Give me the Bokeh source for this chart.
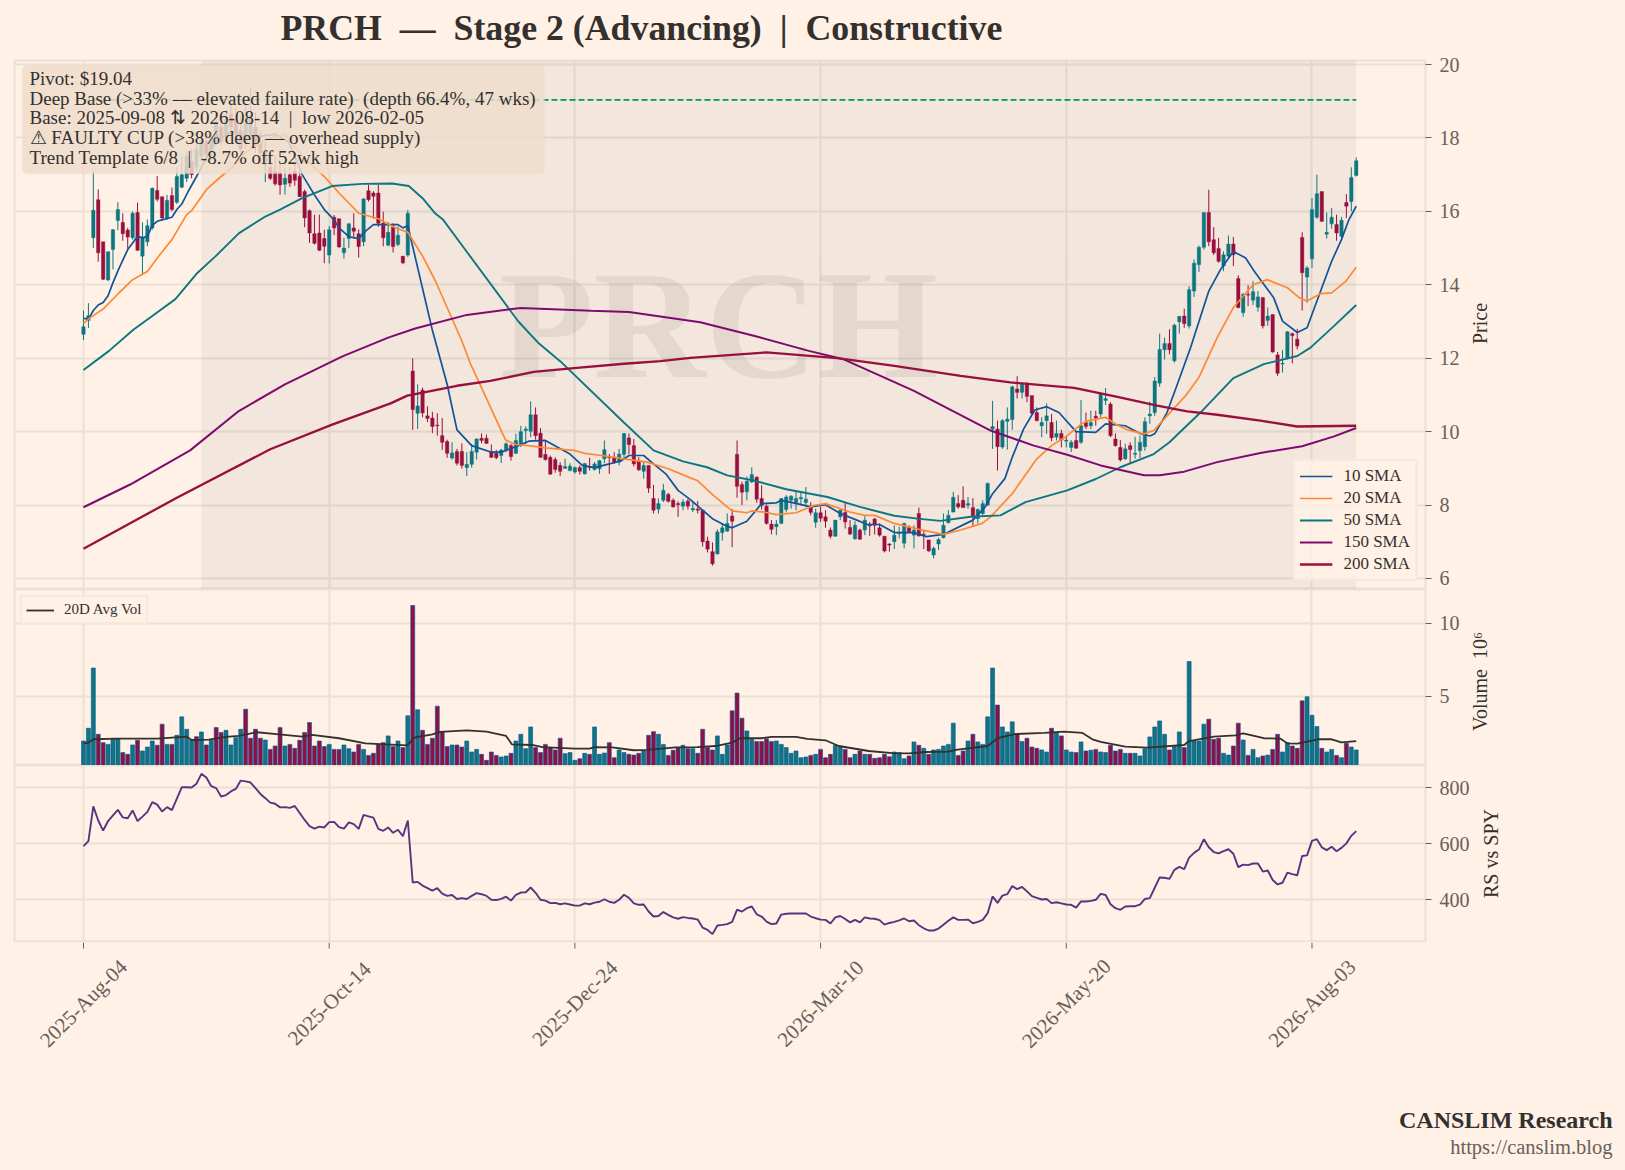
import math
from bokeh.plotting import figure
from bokeh.layouts import column, row
from bokeh.core.properties import value
from bokeh.models import Range1d, FixedTicker, BoxAnnotation, Label, Legend, LegendItem, ColumnDataSource
from bokeh.embed import file_html
from bokeh.resources import INLINE

ticker = "PRCH"
title_text = "PRCH\u00a0\u00a0—\u00a0\u00a0Stage 2 (Advancing)\u00a0\u00a0|\u00a0\u00a0Constructive"
pivot = 19.04
base_start_bar = 24
base_end_bar = 259
tick_bars = [0, 50, 100, 150, 200, 250]
tick_labels = ["2025-Aug-04", "2025-Oct-14", "2025-Dec-24", "2026-Mar-10", "2026-May-20", "2026-Aug-03"]
annotation_lines = [
    "Pivot: $19.04",
    "Deep Base (>33% — elevated failure rate)\u00a0\u00a0(depth 66.4%, 47 wks)",
    "Base: 2025-09-08 ⇅ 2026-08-14\u00a0\u00a0|\u00a0\u00a0low 2026-02-05",
    "⚠ FAULTY CUP (>38% deep — overhead supply)",
    "Trend Template 6/8\u00a0\u00a0|\u00a0\u00a0-8.7% off 52wk high",
]

body_top = [
12.86,13.16,16.03,16.32,15.17,14.9,15.5,16.05,15.7,15.49,
15.95,15.97,15.3,15.61,16.63,16.57,16.4,16.3,16.43,16.95,
17.0,17.5,17.35,17.7,17.95,17.9,18.0,18.4,18.3,18.5,
18.65,18.5,18.2,18.4,18.6,18.3,17.9,17.6,17.2,17.1,
17.05,16.9,17.0,17.1,16.95,16.54,16.02,15.39,15.41,15.26,
15.5,15.84,15.8,15.0,15.66,15.55,15.39,16.34,16.56,16.5,
16.5,15.68,15.43,15.58,15.35,14.78,15.95,11.65,10.7,11.13,
10.43,10.37,10.18,9.89,9.73,9.42,9.46,9.46,9.11,9.46,
9.8,9.82,9.82,9.46,9.41,9.5,9.67,9.62,9.76,10.0,
10.07,10.46,10.46,9.96,9.38,9.3,9.24,9.08,9.05,9.06,
9.02,9.02,9.13,9.05,9.12,9.21,9.51,9.32,9.3,9.39,
9.95,9.83,9.62,9.2,9.08,9.08,8.18,8.04,8.4,8.29,
8.13,8.04,8.08,8.11,7.91,7.89,7.86,7.02,6.73,7.27,
7.38,7.5,7.7,9.38,8.56,8.65,8.83,8.76,8.18,7.97,
7.48,7.48,8.18,8.22,8.24,8.18,8.21,8.16,7.95,7.79,
7.79,7.68,7.32,7.59,7.86,7.8,7.39,7.45,7.32,7.59,
7.45,7.62,7.38,7.15,6.94,7.18,7.25,7.5,7.39,7.32,
7.77,7.2,7.05,6.82,7.06,7.45,7.72,8.21,8.04,8.13,
8.04,7.93,7.88,8.04,8.59,10.14,10.07,10.3,10.34,11.22,
11.16,11.29,11.32,10.98,10.52,10.25,10.43,10.25,9.95,9.95,
9.77,9.71,9.76,10.16,10.25,10.25,10.42,11.02,10.9,10.75,
9.8,9.57,9.53,9.62,9.41,9.71,10.27,10.48,11.38,12.24,
12.4,12.4,12.9,13.14,13.15,13.87,14.59,15.02,15.97,15.97,
15.23,14.99,14.82,15.11,15.11,14.17,13.74,13.74,13.81,13.67,
13.65,13.15,13.19,12.09,11.86,12.72,12.67,12.52,15.29,14.46,
16.05,16.48,16.54,15.43,15.84,15.64,15.76,16.24,16.92,17.38]

body_bot = [
12.65,13.03,15.28,14.87,14.15,14.13,14.96,15.75,15.39,15.3,
15.28,14.94,14.78,15.17,15.55,16.33,15.82,15.82,16.05,16.25,
16.66,16.9,17.0,17.2,17.5,17.55,17.6,17.95,17.9,18.1,
18.3,18.1,17.7,17.9,18.1,17.9,17.6,17.25,16.9,16.75,
16.72,16.74,16.77,16.85,16.4,15.82,15.41,15.13,14.94,15.05,
14.81,15.55,15.03,14.87,15.26,15.46,15.04,15.17,16.32,16.41,
15.68,15.28,15.08,15.04,15.1,14.6,14.81,10.6,10.5,10.51,
10.36,10.14,10.16,9.71,9.41,9.28,9.14,9.08,9.02,9.11,
9.44,9.76,9.68,9.3,9.29,9.35,9.49,9.32,9.41,9.65,
10.03,10.01,9.89,9.3,9.24,8.84,8.97,8.92,9.0,8.94,
8.9,8.92,8.85,9.02,8.97,8.99,9.26,9.29,9.17,9.17,
9.38,9.65,9.12,8.96,8.92,8.46,7.86,7.89,8.13,8.1,
7.95,8.01,7.97,7.97,7.87,7.86,7.0,6.8,6.4,6.67,
7.25,7.29,7.56,8.51,8.35,8.36,8.63,8.16,7.99,7.5,
7.34,7.41,7.5,7.88,8.13,8.07,8.17,8.07,7.8,7.53,
7.64,7.56,7.15,7.15,7.68,7.54,7.21,7.08,7.07,7.32,
7.43,7.45,7.18,6.75,6.91,7.0,7.23,6.96,7.27,7.18,
7.16,7.18,6.75,6.64,6.94,7.11,7.52,7.81,7.95,7.93,
8.0,7.68,7.63,7.77,8.0,10.07,9.59,9.58,10.28,10.33,
11.07,11.07,10.96,10.5,10.3,10.16,10.3,9.83,9.85,9.77,
9.74,9.57,9.55,9.71,10.14,10.16,10.37,10.48,10.85,9.89,
9.62,9.23,9.26,9.51,9.38,9.48,9.59,10.43,10.52,11.32,
12.23,12.23,11.93,12.99,12.94,12.88,13.83,14.55,15.02,15.17,
14.87,14.64,14.51,14.78,14.82,13.38,13.24,13.72,13.58,13.39,
12.88,13.03,12.17,11.59,11.84,12.0,12.62,12.33,14.33,14.21,
14.71,15.84,15.73,15.38,15.66,15.41,15.32,16.14,16.27,16.98]

highs = [
13.3,13.5,17.1,16.6,15.17,14.9,15.52,16.25,15.95,15.55,
16,16.24,15.7,15.78,16.65,16.96,16.4,16.45,16.65,17.2,
17.5,17.6,17.7,17.9,18.1,18.2,18.2,18.5,18.6,18.7,
18.9,18.8,18.6,18.9,19.38,18.7,18.2,17.9,17.6,17.5,
17.3,17.2,17.2,17.3,17.1,16.59,16.05,15.91,15.91,15.5,
15.6,15.9,15.8,15.28,15.68,15.95,15.51,16.36,16.72,16.55,
16.72,15.99,15.71,15.68,15.59,14.78,16.04,12.0,11.29,11.2,
10.69,10.54,10.5,10.37,9.78,9.71,9.53,9.68,9.44,9.67,
9.82,9.95,9.92,9.65,9.5,9.53,9.71,9.67,9.94,10.16,
10.14,10.82,10.66,10.1,9.76,9.35,9.3,9.17,9.26,9.14,
9.05,9.08,9.15,9.29,9.17,9.23,9.76,9.39,9.44,9.53,
9.96,9.95,9.8,9.3,9.17,9.08,8.55,8.18,8.58,8.33,
8.18,8.1,8.16,8.17,8.11,8.11,7.88,7.14,6.98,7.34,
7.5,7.77,7.89,9.76,8.64,8.78,9.03,8.78,8.54,8.02,
7.59,7.59,8.19,8.27,8.27,8.36,8.36,8.49,8.08,7.9,
7.95,7.86,7.39,7.59,7.9,8.06,7.59,7.56,7.36,7.7,
7.54,7.65,7.5,7.15,6.96,7.45,7.41,7.52,7.45,7.45,
7.93,7.32,7.05,6.87,7.11,7.77,7.86,8.36,8.27,8.51,
8.22,8.19,7.9,8.13,8.61,10.84,10.3,10.34,10.66,11.25,
11.51,11.34,11.34,10.99,10.66,10.39,10.77,10.48,10.3,10.05,
9.86,9.77,10.03,10.86,10.52,10.57,10.57,11.07,11.19,10.8,
9.95,9.77,9.67,9.71,9.86,9.89,10.39,10.82,11.49,12.67,
12.56,12.79,12.94,13.14,13.35,13.96,14.69,15.07,15.97,16.59,
15.57,15.28,14.91,15.34,15.3,14.26,13.78,13.99,14.1,13.83,
13.67,13.38,13.19,12.17,12.22,12.74,12.7,12.8,15.43,14.51,
16.36,17.0,16.54,15.97,16.09,15.91,15.85,16.47,17.2,17.47]

lows = [
12.5,12.82,15.0,14.63,14.13,14.1,14.42,15.49,15.2,14.98,
15.23,14.92,14.3,15.05,15.5,16.27,15.77,15.77,16.0,16.2,
16.63,16.8,16.9,17.1,17.4,17.4,17.4,17.8,17.8,18.0,
18.1,17.9,17.6,17.7,18.0,17.6,17.3,16.8,16.85,16.7,
16.45,16.46,16.67,16.7,16.4,15.57,15.14,15.1,14.92,14.59,
14.58,15.35,15.01,14.71,15.0,15.26,14.74,15.05,16.27,15.8,
15.58,15.05,15.05,14.88,15.05,14.56,14.76,10.05,10.07,10.39,
10.26,9.96,9.89,9.5,9.29,9.24,9.08,8.99,8.79,9.02,
9.24,9.68,9.67,9.29,9.25,9.14,9.44,9.21,9.39,9.58,
9.65,9.85,9.78,9.29,9.21,8.83,8.88,8.79,8.99,8.92,
8.85,8.83,8.83,8.94,8.94,8.85,9.14,8.85,9.12,9.08,
9.26,9.39,9.05,8.93,8.72,8.33,7.77,7.77,8.08,8.07,
7.93,7.68,7.86,7.88,7.81,7.77,6.87,6.71,6.35,6.65,
7.03,7.27,6.85,8.2,8.0,8.13,8.6,8.06,7.88,7.47,
7.2,7.18,7.48,7.8,7.9,7.86,8.02,7.95,7.72,7.38,
7.54,7.38,7.09,7.14,7.59,7.36,7.18,7.06,7.05,7.18,
7.16,7.2,7.14,6.71,6.73,6.8,7.09,6.82,7.24,6.82,
7.14,6.8,6.73,6.55,6.78,7.09,7.5,7.8,7.9,7.93,
7.9,7.41,7.5,7.7,7.98,9.53,8.94,9.53,9.51,10.05,
10.9,10.9,10.8,10.48,10.28,9.85,9.94,9.74,9.76,9.57,
9.57,9.44,9.53,9.67,10.07,10.07,10.16,10.39,10.73,9.85,
9.59,9.19,9.23,9.14,9.26,9.28,9.48,10.21,10.43,11.22,
11.97,12.11,11.88,12.67,12.83,12.81,13.67,14.35,14.96,15.05,
14.81,14.6,14.37,14.73,14.51,13.36,13.13,13.42,13.45,13.27,
12.81,12.88,12.15,11.52,11.61,11.97,11.86,12.24,13.3,13.51,
14.46,15.8,15.71,15.26,15.53,15.2,15.26,15.82,16.0,16.95]

candle_up = ("UUUDDUUUDD" "UDUUUDDUDU" "UUDUUDUUDU" "DDDUUDDUDD" "DUDDDDDDDD"
             "UDDUUDDUDD" "DDUDUDUDUD" "DDDDDUDDUU" "UDDDDUUDUU" "UUDDDDDDUU"
             "UDUDUUUDDU" "UDDDUDDUUD" "DDUDUDDDDU" "UUDDDUUDDD" "DUUUUUUUDU"
             "DDDUUDDUDU" "DDDDDUUUDU" "DDDUUUUUDD" "UDUUUUDUUU" "DUDDDUUDUD"
             "UUDUDUDUUD" "DDUDUUUUUU" "UDUUDUUUUD" "DDUUDDUDUU" "DUDDUUDDDU"
             "UUDUUDUDUU")

volumes = [
1.96,2.83,6.94,2.42,1.85,1.73,2.08,2.12,1.17,1.05,
1.69,2.01,1.28,1.55,1.96,1.67,3.11,1.73,1.73,2.35,
3.61,2.76,2.01,2.26,2.58,1.69,2.01,2.88,2.54,2.69,
1.69,2.19,2.76,4.13,2.15,2.76,2.15,2.03,1.39,1.62,
2.88,1.62,1.73,1.46,2.01,2.54,3.22,1.62,1.96,1.58,
1.73,1.39,1.39,1.69,1.44,1.21,1.73,1.39,.98,1.12,
1.73,1.85,2.31,1.58,1.96,1.51,3.68,11.21,4.09,2.69,
1.73,2.15,4.34,2.58,1.58,1.69,1.69,1.55,1.96,1.21,
1.39,1.05,.64,1.21,.98,.87,.94,1.12,1.96,2.42,
1.44,2.92,1.51,1.17,1.73,1.51,1.35,2.15,1.1,1.17,
.64,.75,1.12,1.05,2.92,1.05,1.14,1.85,.82,1.35,
1.17,1.05,1.0,1.12,1.28,2.35,2.6,2.42,1.73,.98,
1.33,1.51,1.67,1.44,1.44,1.12,2.76,1.51,1.35,2.31,
1.05,1.69,4.02,5.23,3.52,2.65,2.08,1.92,1.92,2.12,
1.92,1.96,1.73,1.51,1.12,1.28,.82,.87,.98,1.05,
1.39,.82,1.05,1.67,1.58,1.39,.82,1.05,1.28,1.05,
1.05,.78,.82,1.05,.89,1.21,1.17,.75,.94,1.9,
1.67,1.46,1.05,1.35,1.39,1.62,1.73,3.18,.98,1.28,
1.96,2.42,1.9,1.73,3.61,6.94,4.41,2.92,2.58,3.27,
2.42,1.92,2.15,1.55,1.46,1.35,1.21,2.83,2.54,2.31,
1.35,1.21,1.17,1.9,1.28,1.33,1.39,1.21,1.17,1.67,
1.28,1.39,1.12,1.12,1.12,.94,1.44,2.24,2.92,3.33,
2.42,1.35,1.58,2.58,1.51,7.38,1.96,1.96,3.11,3.45,
2.08,2.15,1.12,1.0,1.62,3.18,2.03,.98,1.39,.82,
.94,1.0,1.39,2.42,1.21,1.85,1.62,1.46,4.70,4.98,
3.72,2.95,1.46,1.21,1.39,.98,.82,1.8,1.55,1.35]

volume_up = ("UUUDDUUUDD" "UDUUUDDUDU" "UUUDUDUDDU" "UUUDDDDUDD" "DUDDDDDDDD"
             "UDDUUDDUDD" "DDUDUDUDUD" "DDDDDUDDUU" "UDDDDUUDUU" "UUDDDDDDUU"
             "UDUDUUUDDU" "UDDDUDDUUD" "DDUDUDDDDU" "UUDDDUUDDD" "DUUUUUUUDU"
             "DDDUUDDUDU" "DDDDDUUUDU" "DUDUUUUUDD" "UDUUUUDUUU" "DUDDDUUDUD"
             "UUDUDUDUUD" "DDUDUUUUUU" "UDUUDUUUUD" "DDUUDDUDUU" "DUDDUUDDDU"
             "UUDUUDUDUU")

rs_values = [
591,609,734,683,647,681,701,721,694,691,719,681,697,714,749,740,715,731,720,761,
802,802,801,815,850,837,806,799,769,774,787,796,826,823,819,799,778,763,747,743,
730,731,728,735,710,685,663,654,661,658,677,678,659,654,676,670,653,703,698,693,
653,646,658,639,650,627,683,461,463,450,441,432,441,421,413,416,402,405,402,413,
423,419,413,399,398,402,410,396,417,425,426,443,424,399,396,387,388,383,386,382,
378,378,386,383,389,392,401,392,388,399,417,406,386,381,382,357,339,341,355,345,
336,331,337,334,332,328,299,291,276,307,309,312,320,364,357,369,375,347,339,321,
312,314,346,349,350,350,350,350,339,333,328,327,314,336,341,330,318,327,318,336,
332,331,326,310,316,320,325,332,322,325,308,297,289,289,296,310,324,336,327,327,
328,315,320,327,351,411,388,414,419,448,437,445,429,412,406,400,402,387,390,386,
382,381,371,393,393,395,399,420,416,383,369,363,375,376,376,382,402,405,442,479,
478,474,506,517,509,550,567,579,616,587,570,565,573,580,564,516,525,523,529,529,
500,504,470,454,460,496,491,487,556,558,610,616,587,577,589,573,585,601,628,645]

sma10_x = [0,1,2,3,4,5,6,7,8,9,10,11,12,13,14,15,16,18,19,20,21.5,23,25,27,30,33,36,39,41.8,44.5,47,49,51,52,54,56,57.4,59,61,64,65,66,71,71.6,74,76,79,83,85,88,90.6,94,96.4,99,101.5,104,107,109.5,111,114,116,118.5,121,123.5,125.2,128,130.5,132,135,138,141,142,144.5,148,151,154,157,159.5,162,165,169,171.5,175,181,183.5,185,187.5,189,191.3,193.6,196,198.5,202,206,208,212,215,217,218,220.5,222.6,225.3,229,231.4,234,236.5,238,240,242.2,244,247,249,252,254,256,257.5,259]
sma10_y = [13.09,13.06,13.3,13.45,13.52,13.7,14.06,14.38,14.67,14.96,15.14,15.32,15.28,15.32,15.62,15.73,15.77,15.84,16.05,16.2,16.59,16.95,17.45,17.9,18.16,18.05,18.05,18.1,17.89,17.0,16.45,16.05,15.77,15.55,15.31,15.26,15.46,15.64,15.64,15.64,15.55,15.61,12.76,12.47,11.29,10.05,9.62,9.44,9.44,9.59,9.74,9.76,9.58,9.39,9.08,9.02,9.12,9.21,9.35,9.35,9.12,8.85,8.4,8.15,7.95,7.63,7.45,7.38,7.56,8.04,8.06,8.13,8.06,7.95,8.01,7.77,7.61,7.47,7.47,7.25,7.25,7.14,7.2,7.59,7.95,8.31,8.72,9.3,10.07,10.59,10.68,10.52,10.0,9.98,10.21,10.16,9.95,9.88,9.94,10.52,11.29,12.29,13.83,14.42,14.91,14.73,14.42,14.05,13.65,13.01,12.7,12.83,13.92,14.64,15.23,15.77,16.14]

sma20_x = [0,1.5,4,7,10,13,15.3,18,21,22,25,28,30,33,37,41,45,49,52,56,60,63.5,66,69,71.6,77,78.8,80.5,85.9,88,91,94,99.8,102,106.6,110,114.7,119,123.5,124.9,128.3,132,135,136,138.5,141,145,148.7,151,156,159,161,165,170,175,178.5,182.9,184.6,189,194,197,200.2,203.3,204.6,208,210,212.4,215.8,217.8,220.5,224.3,227,230.7,234,238,240.9,245,247.4,249,251.8,254,256.9,259]
sma20_y = [12.95,13.12,13.34,13.75,14.14,14.36,14.78,15.23,15.91,16.02,16.59,16.95,17.17,17.6,17.95,18.1,17.44,16.95,16.5,15.95,15.8,15.55,15.43,14.78,14.11,12.47,11.83,11.34,9.77,9.65,9.61,9.56,9.49,9.41,9.33,9.26,9.17,8.99,8.74,8.67,8.25,7.84,7.79,7.84,7.81,7.74,7.79,7.99,8.04,7.81,7.72,7.72,7.5,7.34,7.2,7.32,7.5,7.68,8.31,9.26,9.62,9.89,10.23,10.3,10.39,10.21,10.05,9.94,10.03,10.43,10.98,11.48,12.56,13.38,14.0,14.14,13.92,13.65,13.56,13.76,13.78,14.1,14.48]

sma50_x = [0,5.2,10.2,14,18.7,23,26.9,31.6,37,40,44.5,50.6,56.7,62.8,66.2,69,71.6,73.2,78,88.5,92.7,97,109.97,116,122,126.9,131,136.4,143,151.4,158,165,169.7,174.4,180.5,186.6,191.7,200.2,206,211,217.8,221,227.3,234,240.2,247,249.7,254.5,259]
sma50_y = [11.68,12.2,12.78,13.15,13.61,14.3,14.78,15.4,15.86,16.05,16.36,16.69,16.75,16.76,16.69,16.36,15.94,15.77,14.9,13.0,12.4,11.92,10.25,9.49,9.19,9.03,8.81,8.67,8.43,8.22,7.95,7.71,7.63,7.57,7.68,7.72,8.08,8.4,8.71,9.03,9.39,9.71,10.52,11.46,11.84,12.06,12.29,12.88,13.45]

sma150_x = [0,9.5,21.7,31.6,41,52.7,62,67.5,78,89,103.3,111,125.5,137,147.6,154.7,169,184.6,193.4,200.2,207,215.8,219,224,230.7,239.5,248,254.5,259]
sma150_y = [7.94,8.56,9.49,10.56,11.29,12.05,12.56,12.81,13.18,13.37,13.29,13.26,12.98,12.59,12.2,11.97,11.11,10.03,9.62,9.37,9.08,8.81,8.81,8.91,9.17,9.42,9.6,9.87,10.1]

sma200_x = [0,19,38,50.6,62.5,65.9,69.3,76,82.8,91.6,99.8,110,117.4,123.5,139,153.4,165,178.5,188.6,201.6,210.4,218.5,224.6,230.7,239.5,247,259]
sma200_y = [6.81,8.2,9.52,10.19,10.77,10.98,11.07,11.25,11.38,11.63,11.73,11.85,11.92,12.01,12.16,12.0,11.79,11.52,11.34,11.19,10.95,10.71,10.55,10.46,10.3,10.14,10.16]

avg_vol_x = [0,1,2,7,15,21,22,25.5,29,31.6,35.3,39.8,44.5,46.5,52,57.4,61.5,65.9,67.3,71,72.6,78,82,86,87.2,91.3,93.4,100,103,104,107.6,112,114.7,120.5,124.9,128.6,132,133.6,138,140,145,147.3,151,153.7,159.8,164.6,168,171.3,176,177.5,184,186,189.7,195.5,199.5,203.3,205.3,207,212,216.5,224,225,230,234.4,236,240.2,243.6,245,247,251.2,254,256,259]
avg_vol_y = [1.78,1.85,2.08,2.12,2.12,2.26,2.03,2.05,2.24,2.31,2.56,2.42,2.26,2.38,2.15,1.8,1.73,1.67,2.19,2.42,2.58,2.69,2.6,2.31,1.73,1.69,1.55,1.44,1.44,1.55,1.53,1.33,1.35,1.53,1.55,1.62,1.85,2.15,2.15,2.24,2.24,2.1,2.01,1.62,1.28,1.14,1.12,1.21,1.23,1.35,1.62,2.15,2.44,2.51,2.6,2.51,2.08,1.9,1.58,1.51,1.69,1.96,2.26,2.35,2.49,2.15,2.12,1.8,1.78,2.08,2.08,1.87,1.96]

BG = "#fff1e5"; GRID = "#ebe0d3"; INK = "#33302e"; MUTED = "#66605c"
TEAL = "#0d7680"; CLARET = "#990f3d"; BLUE = "#0f5499"; ORANGE = "#ff8833"; PLUM = "#7d0a6f"; RSC = "#593380"; JADE = "#00994d"
FONT = "Liberation Serif"
bars = list(range(len(volumes)))
XS, XE = -14.04, 273.1
x_range = Range1d(XS, XE)
FW = 1411
PX = (XE - XS) / FW

def panel(width, fh, yr, yticks, top=0):
    p = figure(width=width, height=fh + top, frame_width=FW, frame_height=fh, x_range=x_range, y_range=yr,
               y_axis_location="right", x_axis_location=None, output_backend="svg", toolbar_location=None,
               min_border_left=14, min_border_right=width - 14 - FW, min_border_top=top, min_border_bottom=0,
               background_fill_color=BG, border_fill_color=BG, outline_line_color=GRID, outline_line_width=2)
    p.frame_align = False
    p.xgrid.ticker = FixedTicker(ticks=tick_bars)
    p.xgrid.grid_line_color = GRID; p.xgrid.grid_line_width = 2
    p.ygrid.ticker = FixedTicker(ticks=yticks)
    p.ygrid.grid_line_color = GRID; p.ygrid.grid_line_width = 2
    ax = p.yaxis[0]
    ax.ticker = FixedTicker(ticks=yticks)
    ax.axis_line_color = None
    ax.major_tick_line_color = MUTED; ax.major_tick_in = 0; ax.major_tick_out = 6; ax.major_tick_line_width = 1
    ax.minor_tick_line_color = None
    ax.major_label_text_color = MUTED; ax.major_label_text_font = FONT; ax.major_label_text_font_size = "20px"
    ax.major_label_standoff = 8
    return p

def strip(w, h, xr=None):
    p = figure(width=w, height=h, x_range=xr or Range1d(0, w), y_range=Range1d(h, 0),
               x_axis_location=None, y_axis_location=None, output_backend="svg", toolbar_location=None,
               min_border=0, background_fill_color=BG, border_fill_color=BG, outline_line_color=None)
    p.frame_align = False
    p.grid.visible = False
    return p

def side_label(w, h, x, y, text):
    p = strip(w, h)
    p.text([x], [y], text=[text], angle=90, angle_units="deg", text_align="center", text_baseline="middle",
           text_font=value(FONT), text_font_size="20px", text_color=INK)
    return p

# ---- title strip
p0 = strip(1625, 48)
p0.text([280], [27], text=[title_text], text_align="left", text_baseline="middle",
        text_font=value(FONT), text_font_style="bold", text_font_size="35.8px", text_color=INK)

# ---- price panel
p1 = panel(1468, 529, Range1d(5.70, 20.11), [6, 8, 10, 12, 14, 16, 18, 20], top=12)
p1.add_layout(BoxAnnotation(left=base_start_bar, right=base_end_bar, fill_color="#696774", fill_alpha=0.08, line_color=None, level="underlay"))
p1.add_layout(Label(x=704, y=265, x_units="screen", y_units="screen", text=ticker, text_align="center", text_baseline="middle",
                    text_font=FONT, text_font_style="bold", text_font_size="155px", text_color=INK, text_alpha=0.08, level="underlay"))

ups = [c == "U" for c in candle_up]
src = ColumnDataSource(dict(x=bars, hi=highs, lo=lows, top=body_top, bot=body_bot,
                            col=[TEAL if u else CLARET for u in ups]))
p1.segment("x", "hi", "x", "lo", source=src, line_color="col", line_width=1)
p1.vbar("x", 0.7, "top", "bot", source=src, fill_color="col", line_color="col", line_width=0.4)

items = []
for name, xs, ys, col, w in [("10 SMA", sma10_x, sma10_y, BLUE, 1.7), ("20 SMA", sma20_x, sma20_y, ORANGE, 1.7),
                             ("50 SMA", sma50_x, sma50_y, TEAL, 1.9), ("150 SMA", sma150_x, sma150_y, PLUM, 2.0),
                             ("200 SMA", sma200_x, sma200_y, CLARET, 2.3)]:
    r = p1.line(xs, ys, line_color=col, line_width=w)
    items.append(LegendItem(label=name, renderers=[r]))
p1.line([bars[0], bars[-1]], [pivot, pivot], line_color=JADE, line_width=1.8, line_dash="6 3")

lg = Legend(items=items, location="bottom_right", margin=8, padding=5, spacing=2, glyph_width=33, glyph_height=20,
            label_standoff=11, label_text_font=FONT, label_text_font_size="17px", label_text_color=INK,
            background_fill_color=BG, background_fill_alpha=0.85, border_line_color=GRID, border_line_width=2)
p1.add_layout(lg)

p1.add_layout(BoxAnnotation(left=8, right=530, top=524, bottom=416, left_units="screen", right_units="screen",
                            top_units="screen", bottom_units="screen", fill_color="#efdccb", fill_alpha=0.85,
                            line_color="#eadbcc", line_width=1.5, border_radius=5))
for k, t in enumerate(annotation_lines):
    p1.add_layout(Label(x=15, y=511 - 19.7 * k, x_units="screen", y_units="screen", text=t, text_baseline="middle",
                        text_font=FONT, text_font_size="19px", text_color=INK))

# ---- volume panel
p2 = panel(1468, 176, Range1d(0.29, 12.3), [5, 10])
vup = [c == "U" for c in volume_up]
p2.vbar(bars, 0.8, volumes, 0, fill_color=[TEAL if u else "#8f1043" for u in vup], line_color=BLUE, line_width=0.8, line_alpha=0.8)
rv = p2.line(avg_vol_x, avg_vol_y, line_color=INK, line_width=1.8)
lg2 = Legend(items=[LegendItem(label="20D Avg Vol", renderers=[rv])], location="top_left", margin=6, padding=4, spacing=0,
             glyph_width=28, glyph_height=14, label_standoff=10, label_text_font=FONT, label_text_font_size="15px",
             label_text_color=INK, background_fill_color=BG, background_fill_alpha=0.85, border_line_color=GRID, border_line_width=2)
p2.add_layout(lg2)

# ---- RS panel
p3 = panel(1476, 177, Range1d(246, 880), [400, 600, 800])
p3.line(bars, rs_values, line_color=RSC, line_width=1.9)

# ---- axis titles to the right of each panel
r1 = side_label(157, 541, 11, 275, "Price")
r2 = side_label(157, 176, 11, 92, "Volume\u00a0\u00a010⁶")
r3 = side_label(149, 177, 14, 88, "RS vs SPY")

# ---- strip below the panels: tick marks, rotated date labels, footer
p4 = strip(1625, 226, Range1d(XS - 14 * PX, XS + (1625 - 14) * PX))
p4.segment(tick_bars, [0] * 6, tick_bars, [6] * 6, line_color=MUTED, line_width=1)
p4.text(tick_bars, [61] * 6, text=tick_labels, angle=45, angle_units="deg", text_align="center", text_baseline="middle",
        text_font=value(FONT), text_font_size="21px", text_color=MUTED)
foot_x = XS + (1612 - 14) * PX
p4.text([foot_x], [177], text=["CANSLIM Research"], text_align="right", text_baseline="middle",
        text_font=value(FONT), text_font_style="bold", text_font_size="24px", text_color=INK)
p4.text([foot_x], [204], text=["https://canslim.blog"], text_align="right", text_baseline="middle",
        text_font=value(FONT), text_font_size="20.5px", text_color=MUTED)

layout = column(p0, row(p1, r1, spacing=0), row(p2, r2, spacing=0), row(p3, r3, spacing=0), p4, spacing=0)
html = file_html(layout, INLINE, title="PRCH")
html = html.replace("<head>", "<head><style>html,body{background:#fff1e5;}</style>", 1)
open("out.html", "w").write(html)
